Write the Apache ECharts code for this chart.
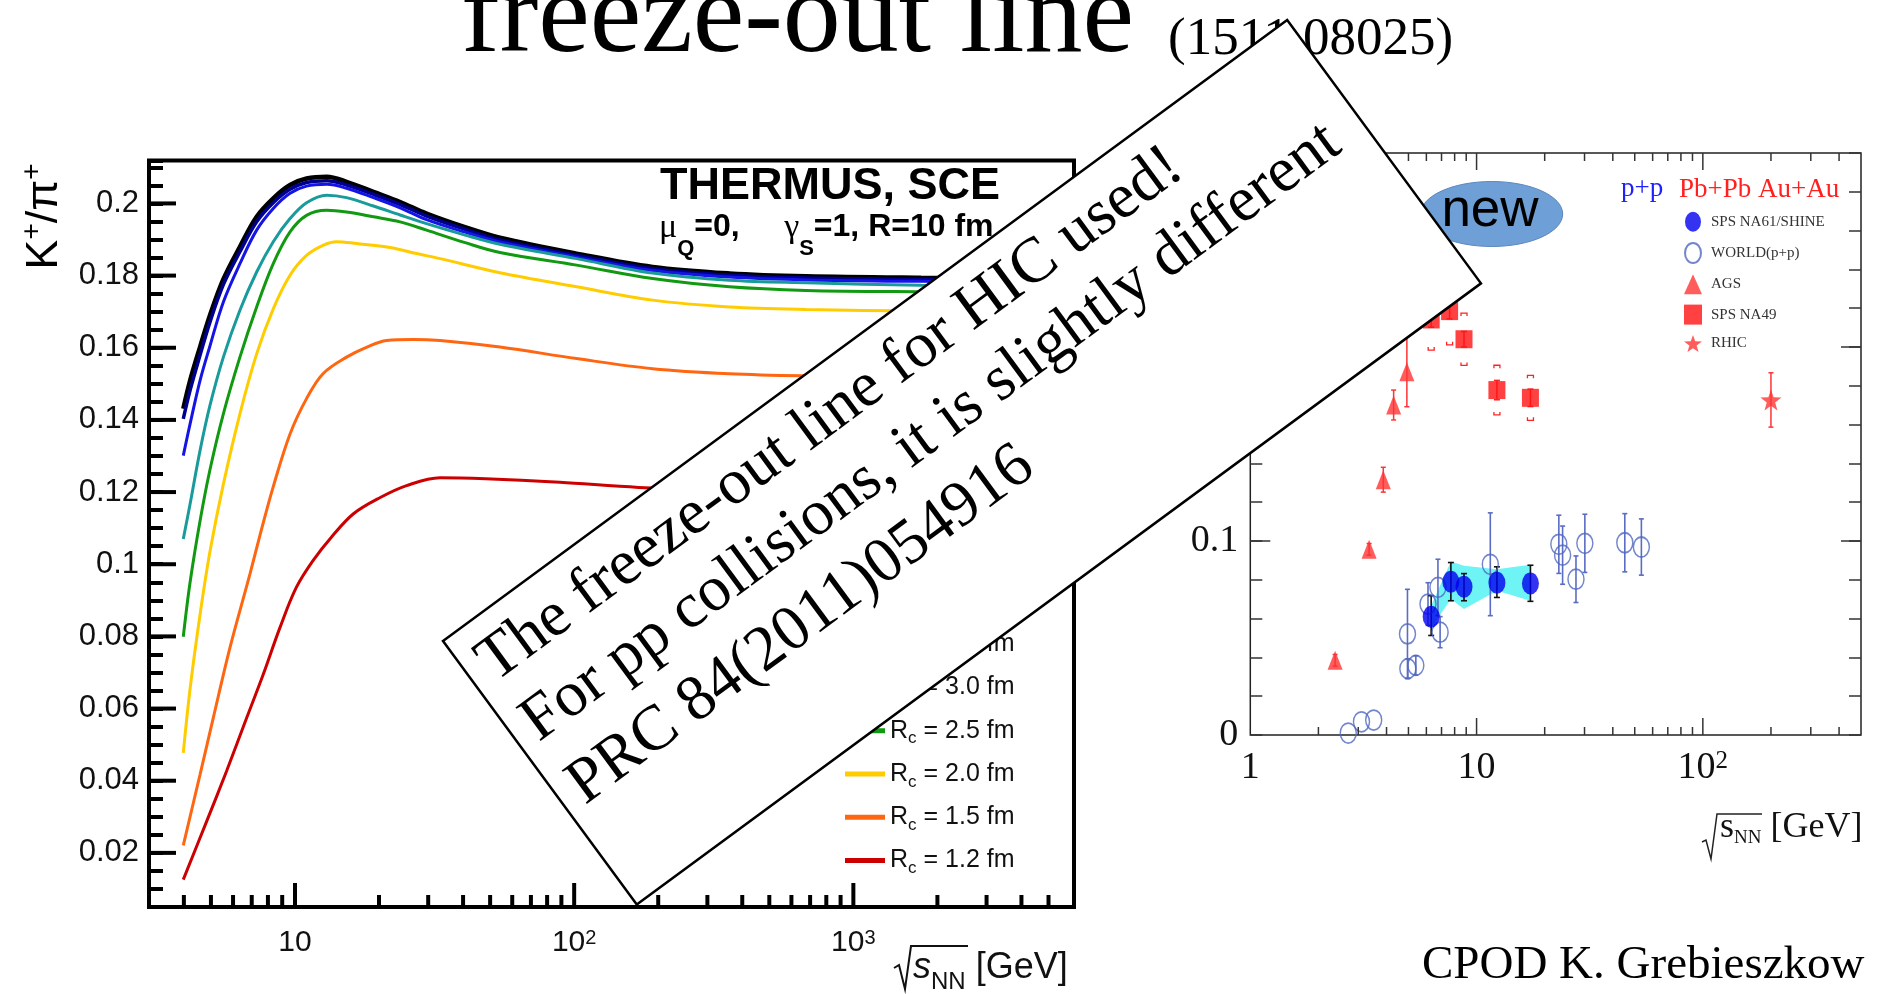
<!DOCTYPE html>
<html>
<head>
<meta charset="utf-8">
<script src="https://cdn.jsdelivr.net/npm/echarts@6.0.0/dist/echarts.min.js"></script>
<style>
html, body { margin: 0; padding: 0; background: #fff; }
#chart { width: 1878px; height: 994px; }
</style>
</head>
<body>
<div id="chart"></div>
<script>
var SANS = '"Liberation Sans", Arial, sans-serif';
var SERIF = '"Liberation Serif", "Times New Roman", serif';

// ---- left panel: THERMUS SCE, K+/pi+ vs sqrt(s_NN) for several Rc ----
var rcNames = ['Rc = 5.0 fm', 'Rc = 4.0 fm', 'Rc = 3.5 fm', 'Rc = 3.0 fm',
               'Rc = 2.5 fm', 'Rc = 2.0 fm', 'Rc = 1.5 fm', 'Rc = 1.2 fm'];
var rcColors = ['#000000', '#00008f', '#1414e6', '#1a9b9b', '#119911', '#ffcc00', '#ff6611', '#cc0000'];
var rcWidths = [4.5, 3.5, 3, 3, 3, 3, 3, 3];

var rc50 = [[3.98,0.1431],[4.21,0.1509],[4.57,0.1602],[4.96,0.1690],[5.54,0.1790],[6.35,0.1880],[7.29,0.1963],[8.36,0.2014],[9.6,0.2051],[11.0,0.2069],[13.0,0.2074],[15.3,0.2060],[19.1,0.2032],[23.8,0.2004],[29.6,0.1972],[40.4,0.1935],[54.2,0.1905],[102,0.1861],[191,0.1824],[360,0.1806],[678,0.1798],[1746,0.1794],[5000,0.1792]];
var rc40 = [[3.98,0.1403],[4.21,0.1482],[4.57,0.1579],[4.96,0.1671],[5.54,0.1775],[6.35,0.1866],[7.29,0.1949],[8.36,0.2002],[9.6,0.2039],[11.0,0.2058],[13.0,0.2063],[15.3,0.2051],[19.1,0.2025],[23.8,0.1997],[29.6,0.1965],[40.4,0.1929],[54.2,0.1899],[102,0.1856],[191,0.1819],[360,0.1801],[678,0.1793],[1746,0.1789],[5000,0.1787]];
var rc35 = [[3.98,0.1301],[4.21,0.1389],[4.57,0.1509],[4.96,0.1605],[5.54,0.1727],[6.35,0.1833],[7.29,0.1926],[8.36,0.1986],[9.6,0.2028],[11.0,0.2048],[13.0,0.2053],[15.3,0.2042],[19.1,0.2016],[23.8,0.1988],[29.6,0.1955],[40.4,0.1921],[54.2,0.1893],[102,0.1851],[191,0.1814],[360,0.1796],[678,0.1788],[1746,0.1784],[5000,0.1782]];
var rc30 = [[3.98,0.1070],[4.21,0.1167],[4.57,0.1315],[4.96,0.1440],[5.54,0.1574],[6.35,0.1704],[7.29,0.1810],[8.36,0.1894],[9.6,0.1958],[11.0,0.2002],[13.0,0.2023],[15.3,0.2016],[19.1,0.1993],[23.8,0.1968],[29.6,0.1944],[40.4,0.1913],[54.2,0.1887],[102,0.1847],[191,0.1807],[360,0.1787],[678,0.1780],[1746,0.1773],[5000,0.1771]];
var rc25 = [[3.98,0.0799],[4.21,0.0950],[4.57,0.1120],[4.96,0.1262],[5.54,0.1417],[6.35,0.1574],[7.29,0.1713],[8.36,0.1833],[9.6,0.1921],[11.0,0.1967],[13.0,0.1981],[15.3,0.1976],[19.1,0.1963],[23.8,0.1949],[29.6,0.1926],[40.4,0.1892],[54.2,0.1864],[102,0.1829],[191,0.1792],[360,0.1769],[678,0.1759],[1746,0.1755],[5000,0.1753]];
var rc20 = [[3.98,0.0477],[4.21,0.0655],[4.57,0.0860],[4.96,0.1035],[5.54,0.1222],[6.35,0.1417],[7.29,0.1583],[8.36,0.1708],[9.6,0.1801],[11.0,0.1856],[12.6,0.1884],[14.1,0.1894],[16.6,0.1889],[21.9,0.1878],[27.3,0.1861],[33.1,0.1847],[54.2,0.1808],[102,0.1769],[191,0.1732],[360,0.1713],[678,0.1706],[1746,0.1702],[5000,0.1700]];
var rc15 = [[3.98,0.0221],[4.57,0.0417],[5.10,0.0575],[5.85,0.0769],[6.90,0.0973],[7.49,0.1080],[8.36,0.1215],[9.6,0.1361],[11.0,0.1459],[12.6,0.1528],[15.3,0.1574],[18.1,0.1602],[21.3,0.1620],[26.5,0.1623],[33.1,0.1620],[54.2,0.1602],[102,0.1570],[191,0.1542],[360,0.1528],[678,0.1522],[1746,0.1518],[5000,0.1515]];
var rc12 = [[3.98,0.0126],[4.83,0.0288],[5.69,0.0427],[6.72,0.0575],[7.70,0.0695],[8.84,0.0825],[10.1,0.0935],[11.6,0.1010],[13.5,0.1075],[16.2,0.1140],[20.2,0.1185],[25.1,0.1218],[33.1,0.1240],[48.2,0.1237],[88.9,0.1227],[170,0.1213],[360,0.1205],[678,0.1200],[1746,0.1197],[5000,0.1195]];
var rcCurves = [rc50, rc40, rc35, rc30, rc25, rc20, rc15, rc12];

var leftXMajor = [10, 100, 1000];
var leftXMinor = [4, 5, 6, 7, 8, 9, 20, 30, 40, 50, 60, 70, 80, 90, 200, 300, 400, 500, 600, 700, 800, 900, 2000, 3000, 4000, 5000];
var leftYMajor = [0.02, 0.04, 0.06, 0.08, 0.1, 0.12, 0.14, 0.16, 0.18, 0.2];

// ---- right panel: K+/pi+ data (NA61/SHINE, world p+p, AGS, NA49, RHIC) ----
var na61E = [6.3, 7.7, 8.8, 12.3, 17.3];
var na61Y = [0.0610, 0.0790, 0.0764, 0.0785, 0.0781];
var na61Lo = [0.0513, 0.0692, 0.0692, 0.0709, 0.0689];
var na61Hi = [0.0718, 0.0889, 0.0832, 0.0867, 0.0875];
var na61SysLo = [0.0552, 0.0701, 0.0650, 0.0744, 0.0692];
var na61SysHi = [0.0667, 0.0894, 0.0872, 0.0855, 0.0877];

var worldE = [2.71, 3.1, 3.51, 4.95, 4.97, 5.39, 6.1, 6.75, 6.9, 11.5, 23.1, 24.0, 27.5, 30.1, 45.2, 53.5];
var worldY = [0.001, 0.0068, 0.0077, 0.0521, 0.0342, 0.0359, 0.0675, 0.0761, 0.053, 0.088, 0.0983, 0.0927, 0.0803, 0.0988, 0.0991, 0.0969];
var worldErr = [0, 0, 0, 0.023, 0.005, 0.005, 0.011, 0.0145, 0.008, 0.0265, 0.015, 0.015, 0.012, 0.015, 0.015, 0.0145];

var agsE = [2.37, 3.35, 3.87, 4.3, 4.92];
var agsY = [0.0385, 0.0957, 0.1316, 0.1701, 0.1872];
var agsErr = [0.003, 0.003, 0.0064, 0.0077, 0.018];

var na49E = [6.3, 7.6, 8.8, 12.3, 17.3];
var na49Y = [0.2142, 0.2185, 0.2040, 0.1778, 0.1738];
var na49Err = [0.004, 0.004, 0.004, 0.005, 0.0045];
var na49Sys = [0.0158, 0.0174, 0.0135, 0.0128, 0.0116];

var rhicE = [200];
var rhicY = [0.1727];
var rhicErr = [0.014];

var rightXMajor = [10, 100];
var rightXMinor = [2, 3, 4, 5, 6, 7, 8, 9, 20, 30, 40, 50, 60, 70, 80, 90, 200, 300, 400];
var rightYMajor = [0.1, 0.2];

var ELLIPSE = 'path://M0,10A8,10,0,1,1,16,10A8,10,0,1,1,0,10Z';
var STAR = 'path://M0,-10L2.35,-3.24L9.51,-3.09L3.8,1.24L5.88,8.09L0,4L-5.88,8.09L-3.8,1.24L-9.51,-3.09L-2.35,-3.24Z';

function isMult(v, step) {
    var r = v / step;
    return Math.abs(r - Math.round(r)) < 1e-6;
}

function powLabel(v) {
    var l = Math.log(v) / Math.LN10;
    var n = Math.round(l);
    if (Math.abs(l - n) > 1e-6) return '';
    if (n === 0) return '{b|1}';
    if (n === 1) return '{b|10}';
    return '{b|10}{s|' + n + '}';
}

// short tick marks along one edge of a grid, placed with the axis scale
function ticks(xi, yi, side, vals, len, color, lw, ref) {
    var horiz = (side === 'bottom' || side === 'top');
    return {
        type: 'custom', xAxisIndex: xi, yAxisIndex: yi, silent: true, z: 6,
        data: vals.map(function (v) { return horiz ? [v, ref] : [ref, v]; }),
        renderItem: function (params, api) {
            var cs = params.coordSys;
            var p = api.coord([api.value(0), api.value(1)]);
            var s;
            if (side === 'bottom') s = { x1: p[0], y1: cs.y + cs.height, x2: p[0], y2: cs.y + cs.height - len };
            else if (side === 'top') s = { x1: p[0], y1: cs.y, x2: p[0], y2: cs.y + len };
            else if (side === 'left') s = { x1: cs.x, y1: p[1], x2: cs.x + len, y2: p[1] };
            else s = { x1: cs.x + cs.width, y1: p[1], x2: cs.x + cs.width - len, y2: p[1] };
            return { type: 'line', shape: s, style: { stroke: color, lineWidth: lw } };
        }
    };
}

function errorBars(xs, ys, lo, hi, color, lw, cap) {
    return {
        type: 'custom', xAxisIndex: 1, yAxisIndex: 1, silent: true, z: 3,
        data: xs.map(function (x, i) { return [x, ys[i], lo[i], hi[i]]; }),
        renderItem: function (params, api) {
            var x = api.value(0);
            var t = api.coord([x, api.value(3)]);
            var b = api.coord([x, api.value(2)]);
            if (Math.abs(t[1] - b[1]) < 1) return;
            var st = { stroke: color, lineWidth: lw };
            return {
                type: 'group',
                children: [
                    { type: 'line', shape: { x1: t[0], y1: t[1], x2: b[0], y2: b[1] }, style: st },
                    { type: 'line', shape: { x1: t[0] - cap, y1: t[1], x2: t[0] + cap, y2: t[1] }, style: st },
                    { type: 'line', shape: { x1: b[0] - cap, y1: b[1], x2: b[0] + cap, y2: b[1] }, style: st }
                ]
            };
        }
    };
}

var series = [];
rcCurves.forEach(function (c, i) {
    series.push({
        type: 'line', name: rcNames[i], xAxisIndex: 0, yAxisIndex: 0,
        data: c, symbol: 'none', smooth: 0.35, z: 3,
        lineStyle: { color: rcColors[i], width: rcWidths[i] },
        itemStyle: { color: rcColors[i] }
    });
});

// NA61 systematic band
series.push({
    type: 'custom', xAxisIndex: 1, yAxisIndex: 1, silent: true, z: 2,
    data: na61E.map(function (e, i) { return [e, na61SysHi[i], na61SysLo[i]]; }),
    renderItem: function (params, api) {
        if (params.dataIndex !== 0) return;
        var pts = [];
        for (var i = 0; i < na61E.length; i++) pts.push(api.coord([na61E[i], na61SysHi[i]]));
        for (var j = na61E.length - 1; j >= 0; j--) pts.push(api.coord([na61E[j], na61SysLo[j]]));
        return { type: 'polygon', shape: { points: pts }, style: { fill: '#6ef4f4' } };
    }
});

series.push(errorBars(worldE, worldY,
    worldY.map(function (y, i) { return y - worldErr[i]; }),
    worldY.map(function (y, i) { return y + worldErr[i]; }), '#5a6cc4', 1.6, 2.5));
series.push(errorBars(na61E, na61Y, na61Lo, na61Hi, '#111', 1.6, 3));
series.push(errorBars(agsE, agsY,
    agsY.map(function (y, i) { return y - agsErr[i]; }),
    agsY.map(function (y, i) { return y + agsErr[i]; }), '#ff3333', 1.5, 2.5));
series.push(errorBars(na49E, na49Y,
    na49Y.map(function (y, i) { return y - na49Err[i]; }),
    na49Y.map(function (y, i) { return y + na49Err[i]; }), '#ff2222', 1.5, 3));
series.push(errorBars(rhicE, rhicY,
    rhicY.map(function (y, i) { return y - rhicErr[i]; }),
    rhicY.map(function (y, i) { return y + rhicErr[i]; }), '#ff3333', 1.5, 2.5));

// NA49 systematic brackets
series.push({
    type: 'custom', xAxisIndex: 1, yAxisIndex: 1, silent: true, z: 3,
    data: na49E.map(function (e, i) { return [e, na49Y[i] + na49Sys[i], na49Y[i] - na49Sys[i]]; }),
    renderItem: function (params, api) {
        var t = api.coord([api.value(0), api.value(1)]);
        var b = api.coord([api.value(0), api.value(2)]);
        var st = { stroke: '#ff2222', lineWidth: 1.3, fill: null };
        return {
            type: 'group',
            children: [
                { type: 'polyline', shape: { points: [[t[0] - 3, t[1] + 3], [t[0] - 3, t[1]], [t[0] + 3, t[1]], [t[0] + 3, t[1] + 3]] }, style: st },
                { type: 'polyline', shape: { points: [[b[0] - 3, b[1] - 3], [b[0] - 3, b[1]], [b[0] + 3, b[1]], [b[0] + 3, b[1] - 3]] }, style: st }
            ]
        };
    }
});

function zip(xs, ys) { return xs.map(function (x, i) { return [x, ys[i]]; }); }

series.push({
    type: 'scatter', name: 'WORLD(p+p)', xAxisIndex: 1, yAxisIndex: 1, z: 4,
    data: zip(worldE, worldY), symbol: ELLIPSE, symbolSize: [16, 20],
    itemStyle: { color: 'rgba(255,255,255,0)', borderColor: '#5068c0', borderWidth: 1.6 }
});
series.push({
    type: 'scatter', name: 'SPS NA61/SHINE', xAxisIndex: 1, yAxisIndex: 1, z: 5,
    data: zip(na61E, na61Y), symbol: ELLIPSE, symbolSize: [17, 22],
    itemStyle: { color: '#0000ee' }
});
series.push({
    type: 'scatter', name: 'AGS', xAxisIndex: 1, yAxisIndex: 1, z: 4,
    data: zip(agsE, agsY), symbol: 'triangle', symbolSize: [15, 19],
    itemStyle: { color: '#ff3333' }
});
series.push({
    type: 'scatter', name: 'SPS NA49', xAxisIndex: 1, yAxisIndex: 1, z: 4,
    data: zip(na49E, na49Y), symbol: 'rect', symbolSize: [17, 18],
    itemStyle: { color: '#ff1111' }
});
series.push({
    type: 'scatter', name: 'RHIC', xAxisIndex: 1, yAxisIndex: 1, z: 4,
    data: zip(rhicE, rhicY), symbol: STAR, symbolSize: [21, 21],
    itemStyle: { color: '#ff3333' }
});

// ticks
series.push(ticks(0, 0, 'bottom', leftXMajor, 24, '#000', 4, 0.1));
series.push(ticks(0, 0, 'bottom', leftXMinor, 12, '#000', 4, 0.1));
series.push(ticks(0, 0, 'left', leftYMajor, 27, '#000', 4, 10));
series.push(ticks(1, 1, 'bottom', rightXMajor, 17, '#333', 1.5, 0.1));
series.push(ticks(1, 1, 'bottom', rightXMinor, 8, '#333', 1.5, 0.1));
series.push(ticks(1, 1, 'top', rightXMajor, 17, '#333', 1.5, 0.1));
series.push(ticks(1, 1, 'top', rightXMinor, 8, '#333', 1.5, 0.1));
series.push(ticks(1, 1, 'left', rightYMajor, 20, '#333', 1.5, 10));
series.push(ticks(1, 1, 'right', rightYMajor, 20, '#333', 1.5, 10));

var boxRot = 36.34 * Math.PI / 180;

var option = {
    animation: false,
    backgroundColor: '#fff',
    textStyle: { fontFamily: SANS },
    grid: [
        { left: 149, top: 160.5, width: 925, height: 746.5, show: true, borderColor: '#000', borderWidth: 4, backgroundColor: 'transparent' },
        { left: 1250.3, top: 153, width: 610.7, height: 582, show: true, borderColor: '#222', borderWidth: 1.5, backgroundColor: 'transparent' }
    ],
    xAxis: [
        {
            gridIndex: 0, type: 'log', logBase: 10, min: 3, max: 6170,
            axisLine: { show: false }, axisTick: { show: false }, splitLine: { show: false },
            axisLabel: {
                margin: 21, formatter: powLabel, color: '#111',
                rich: {
                    b: { fontFamily: SANS, fontSize: 30, color: '#111', lineHeight: 30, padding: [9, 0, 0, 0], verticalAlign: 'bottom' },
                    s: { fontFamily: SANS, fontSize: 20, color: '#111', lineHeight: 20, verticalAlign: 'top' }
                }
            }
        },
        {
            gridIndex: 1, type: 'log', logBase: 10, min: 1, max: 500,
            axisLine: { show: false }, axisTick: { show: false }, splitLine: { show: false },
            axisLabel: {
                margin: 14, formatter: powLabel, color: '#111',
                rich: {
                    b: { fontFamily: SERIF, fontSize: 38, color: '#111', lineHeight: 38, padding: [10, 0, 0, 0], verticalAlign: 'bottom' },
                    s: { fontFamily: SERIF, fontSize: 25, color: '#111', lineHeight: 25, verticalAlign: 'top' }
                }
            }
        }
    ],
    yAxis: [
        {
            gridIndex: 0, type: 'value', min: 0.005, max: 0.2119, interval: 0.005,
            axisLine: { show: false }, splitLine: { show: false },
            axisTick: { show: true, inside: true, length: 14, lineStyle: { color: '#000', width: 4 } },
            axisLabel: {
                margin: 10, fontFamily: SANS, fontSize: 31, color: '#111',
                formatter: function (v) { return isMult(v, 0.02) ? String(+v.toFixed(3)) : ''; }
            }
        },
        {
            gridIndex: 1, type: 'value', min: 0, max: 0.3, interval: 0.02,
            axisLine: { show: false }, splitLine: { show: false },
            axisTick: { show: true, inside: true, length: 12, lineStyle: { color: '#333', width: 1.5 } },
            axisLabel: {
                margin: 12, fontFamily: SERIF, fontSize: 38, color: '#111',
                formatter: function (v) { return isMult(v, 0.1) && v < 0.25 ? String(+v.toFixed(2)) : ''; }
            }
        },
        {
            gridIndex: 1, type: 'value', position: 'right', min: 0, max: 0.3, interval: 0.02,
            axisLine: { show: false }, splitLine: { show: false }, axisLabel: { show: false },
            axisTick: { show: true, inside: true, length: 12, lineStyle: { color: '#333', width: 1.5 } }
        }
    ],
    legend: [
        {
            data: rcNames, orient: 'vertical', left: 845, top: 545, padding: 0,
            itemWidth: 40, itemHeight: 5, itemGap: 14.3, icon: 'rect', selectedMode: false,
            formatter: function (name) { return '{r|R}{c|c}{r|' + name.slice(2) + '}'; },
            textStyle: {
                fontFamily: SANS, fontSize: 25, color: '#111',
                rich: {
                    r: { fontFamily: SANS, fontSize: 25, color: '#111', lineHeight: 25, verticalAlign: 'top' },
                    c: { fontFamily: SANS, fontSize: 17, color: '#111', lineHeight: 17, padding: [12, 0, 0, 0], verticalAlign: 'top' }
                }
            }
        },
        {
            data: ['SPS NA61/SHINE', 'WORLD(p+p)', 'AGS', 'SPS NA49', 'RHIC'],
            orient: 'vertical', left: 1684, top: 211.7, padding: 0,
            itemWidth: 18, itemHeight: 20, itemGap: 10.3, selectedMode: false,
            textStyle: { fontFamily: SERIF, fontSize: 15, color: '#333', padding: [0, 0, 0, 4] }
        }
    ],
    graphic: [
        { type: 'text', x: 461, y: 21, z: 10, style: { text: 'freeze-out line', fontFamily: SERIF, fontSize: 116, fill: '#000', verticalAlign: 'middle' } },
        { type: 'text', x: 1168, y: 40, z: 10, style: { text: '(1511.08025)', fontFamily: SERIF, fontSize: 53, fill: '#000', verticalAlign: 'middle' } },
        { type: 'text', x: 1422, y: 966, z: 10, style: { text: 'CPOD K. Grebieszkow', fontFamily: SERIF, fontSize: 47, fill: '#000', verticalAlign: 'middle' } },

        { type: 'text', x: 660, y: 187, z: 10, style: { text: 'THERMUS, SCE', fontFamily: SANS, fontWeight: 'bold', fontSize: 45, fill: '#000', verticalAlign: 'middle' } },
        {
            type: 'text', x: 659, y: 210.7, z: 10,
            style: {
                text: '{g|μ}{q|Q}{t|=0,     }{g|γ}{q|S}{t|=1, R=10 fm}', verticalAlign: 'top', fill: '#000',
                rich: {
                    g: { fontFamily: SERIF, fontSize: 34, lineHeight: 32, verticalAlign: 'top', fill: '#000' },
                    t: { fontFamily: SANS, fontWeight: 'bold', fontSize: 32, lineHeight: 32, verticalAlign: 'top', fill: '#000' },
                    q: { fontFamily: SANS, fontWeight: 'bold', fontSize: 22, lineHeight: 22, padding: [27, 0, 0, 0], verticalAlign: 'top', fill: '#000' }
                }
            }
        },
        // y title K+/pi+
        {
            type: 'text', x: 31, y: 216.5, rotation: Math.PI / 2, z: 10,
            style: {
                text: '{k|K}{p|+}{k|/π}{p|+}', align: 'center', verticalAlign: 'middle', fill: '#000',
                rich: {
                    k: { fontFamily: SANS, fontSize: 45, lineHeight: 45, padding: [14, 0, 0, 0], verticalAlign: 'top', fill: '#000' },
                    p: { fontFamily: SANS, fontSize: 28, lineHeight: 28, padding: [10, 0, 0, 0], verticalAlign: 'top', fill: '#000' }
                }
            }
        },
        // x title left
        { type: 'polyline', z: 10, shape: { points: [[894, 968], [899, 965], [905, 989], [911, 946], [968, 946]] }, style: { stroke: '#111', lineWidth: 2, fill: null } },
        {
            type: 'text', x: 913, y: 950, z: 10,
            style: {
                text: '{i|s}{n|NN}{r| [GeV]}', verticalAlign: 'top', fill: '#111',
                rich: {
                    i: { fontFamily: SANS, fontStyle: 'italic', fontSize: 36, lineHeight: 36, verticalAlign: 'top', fill: '#111' },
                    r: { fontFamily: SANS, fontSize: 36, lineHeight: 36, verticalAlign: 'top', fill: '#111' },
                    n: { fontFamily: SANS, fontSize: 24, lineHeight: 24, padding: [20, 0, 0, 0], verticalAlign: 'top', fill: '#111' }
                }
            }
        },
        // right panel annotations
        { type: 'ellipse', z: 50, shape: { cx: 1491.7, cy: 214, rx: 71, ry: 32.5 }, style: { fill: '#6e9fd6', stroke: '#5b87bd', lineWidth: 1 } },
        { type: 'text', x: 1490, y: 211.5, z: 51, style: { text: 'new', fontFamily: SANS, fontSize: 53, fill: '#000', align: 'center', verticalAlign: 'middle' } },
        { type: 'text', x: 1621, y: 189, z: 10, style: { text: 'p+p', fontFamily: SERIF, fontSize: 27, fill: '#2020ff', verticalAlign: 'middle' } },
        { type: 'text', x: 1679, y: 190, z: 10, style: { text: 'Pb+Pb Au+Au', fontFamily: SERIF, fontSize: 27, fill: '#ff2020', verticalAlign: 'middle' } },
        { type: 'polyline', z: 10, shape: { points: [[1702, 842], [1706, 840], [1711, 859], [1717, 814], [1762, 814]] }, style: { stroke: '#222', lineWidth: 1.5, fill: null } },
        {
            type: 'text', x: 1720, y: 809.5, z: 10,
            style: {
                text: '{r|s}{n|NN}{r| [GeV]}', verticalAlign: 'top', fill: '#111',
                rich: {
                    r: { fontFamily: SERIF, fontSize: 36, lineHeight: 36, verticalAlign: 'top', fill: '#111' },
                    n: { fontFamily: SERIF, fontSize: 19, lineHeight: 19, padding: [19, 0, 0, 0], verticalAlign: 'top', fill: '#111' }
                }
            }
        },
        // rotated note box on top of everything
        {
            type: 'group', x: 443, y: 641, rotation: boxRot, z: 100,
            children: [
                { type: 'rect', z: 100, shape: { x: 0, y: 0, width: 1048, height: 327 }, style: { fill: '#fff', stroke: '#000', lineWidth: 2.5 } },
                { type: 'text', z: 101, x: 17, y: 47.5, style: { text: 'The freeze-out line for HIC used!', fontFamily: SERIF, fontSize: 64, fill: '#000', verticalAlign: 'middle' } },
                { type: 'text', z: 101, x: 17, y: 121.5, style: { text: 'For pp collisions, it is slightly different', fontFamily: SERIF, fontSize: 64, fill: '#000', verticalAlign: 'middle' } },
                { type: 'text', z: 101, x: 17, y: 199.5, style: { text: 'PRC 84(2011)054916', fontFamily: SERIF, fontSize: 64, fill: '#000', verticalAlign: 'middle' } }
            ]
        }
    ],
    series: series
};

var myChart = echarts.init(document.getElementById('chart'), null, { renderer: 'canvas' });
myChart.setOption(option);
</script>
</body>
</html>
